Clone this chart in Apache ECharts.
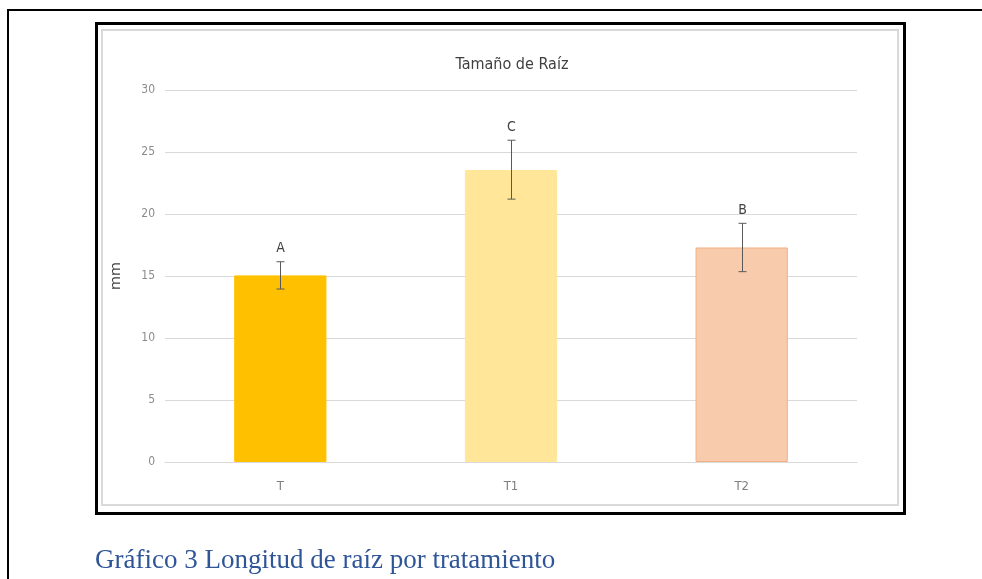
<!DOCTYPE html>
<html>
<head>
<meta charset="utf-8">
<script src="https://cdn.jsdelivr.net/npm/echarts@6/dist/echarts.min.js"></script>
<style>
html,body{margin:0;padding:0;background:#fff;}
#c{width:982px;height:579px;}
</style>
</head>
<body>
<div id="c"></div>
<script>
var categories = ['T', 'T1', 'T2'];
var means = [15.05, 23.55, 17.3];
var errLow = [13.95, 21.2, 15.35];
var errHigh = [16.15, 25.95, 19.25];
var letters = ['A', 'C', 'B'];
var barColors = ['#FFC000', '#FFE699', '#F8CBAD'];
var barBorders = ['#FFC000', '#FFE699', '#F4B183'];
var yTicks = [0, 5, 10, 15, 20, 25, 30];

var FONT = "'Liberation Sans Narrow','DejaVu Sans Condensed','Open Sans',sans-serif";

var chart = echarts.init(document.getElementById('c'), null, {renderer: 'canvas'});
chart.setOption({
  animation: false,
  backgroundColor: '#ffffff',
  title: {
    text: 'Tamaño de Raíz',
    left: 507, top: 52, textAlign: 'center',
    textStyle: {fontFamily: FONT, fontSize: 16, fontWeight: 'normal', color: '#404040'}
  },
  grid: {left: 165, right: 125, top: 90, bottom: 117, containLabel: false},
  xAxis: {
    type: 'category',
    data: categories,
    axisLine: {show: true, lineStyle: {color: '#d9d9d9', width: 1}},
    axisTick: {show: false},
    axisLabel: {fontFamily: FONT, fontSize: 13, color: '#7f7f7f', margin: 18}
  },
  yAxis: {
    type: 'value',
    min: yTicks[0], max: yTicks[yTicks.length - 1], interval: 5,
    name: 'mm', nameLocation: 'middle', nameGap: 42,
    nameTextStyle: {fontFamily: "'Open Sans',sans-serif", fontSize: 15, color: '#404040'},
    axisLine: {show: false},
    axisTick: {show: false},
    axisLabel: {fontFamily: FONT, fontSize: 12, color: '#8c8c8c', margin: 10},
    splitLine: {lineStyle: {color: '#d9d9d9', width: 1}}
  },
  series: [
    {
      type: 'bar',
      barWidth: '40%',
      data: means.map(function (v, i) {
        return {value: v, itemStyle: {color: barColors[i], borderColor: barBorders[i], borderWidth: 1}};
      })
    },
    {
      type: 'custom',
      data: categories.map(function (c, i) { return [i, errLow[i], errHigh[i]]; }),
      renderItem: function (params, api) {
        var i = api.value(0);
        var lo = api.coord([i, api.value(1)]);
        var hi = api.coord([i, api.value(2)]);
        var x = Math.round(lo[0]) + 0.5;
        var hw = 4;
        var st = {stroke: '#595959', lineWidth: 1};
        return {
          type: 'group',
          children: [
            {type: 'line', shape: {x1: x, y1: hi[1], x2: x, y2: lo[1]}, style: st},
            {type: 'line', shape: {x1: x - hw, y1: hi[1], x2: x + hw, y2: hi[1]}, style: st},
            {type: 'line', shape: {x1: x - hw, y1: lo[1], x2: x + hw, y2: lo[1]}, style: st},
            {type: 'text', x: x, y: hi[1] - 13,
              style: {text: letters[params.dataIndex], fill: '#404040', fontSize: 14, fontFamily: FONT,
                      textAlign: 'center', textVerticalAlign: 'middle'}}
          ]
        };
      },
      z: 5
    }
  ],
  graphic: [
    {type: 'line', shape: {x1: 8, y1: 10, x2: 982, y2: 10}, style: {stroke: '#000', lineWidth: 2}},
    {type: 'line', shape: {x1: 8, y1: 9, x2: 8, y2: 579}, style: {stroke: '#000', lineWidth: 2}},
    {type: 'rect', shape: {x: 96.5, y: 23.5, width: 808, height: 490}, style: {fill: 'none', stroke: '#000', lineWidth: 3}},
    {type: 'rect', shape: {x: 102, y: 30, width: 796, height: 475}, style: {fill: 'none', stroke: '#d9d9d9', lineWidth: 2}},
    {type: 'text', left: 95, top: 547,
      style: {text: 'Gráfico 3 Longitud de raíz por tratamiento', fill: '#2F5597', fontSize: 27,
              fontFamily: "'Liberation Serif','Times New Roman',serif"}}
  ]
});
</script>
</body>
</html>
